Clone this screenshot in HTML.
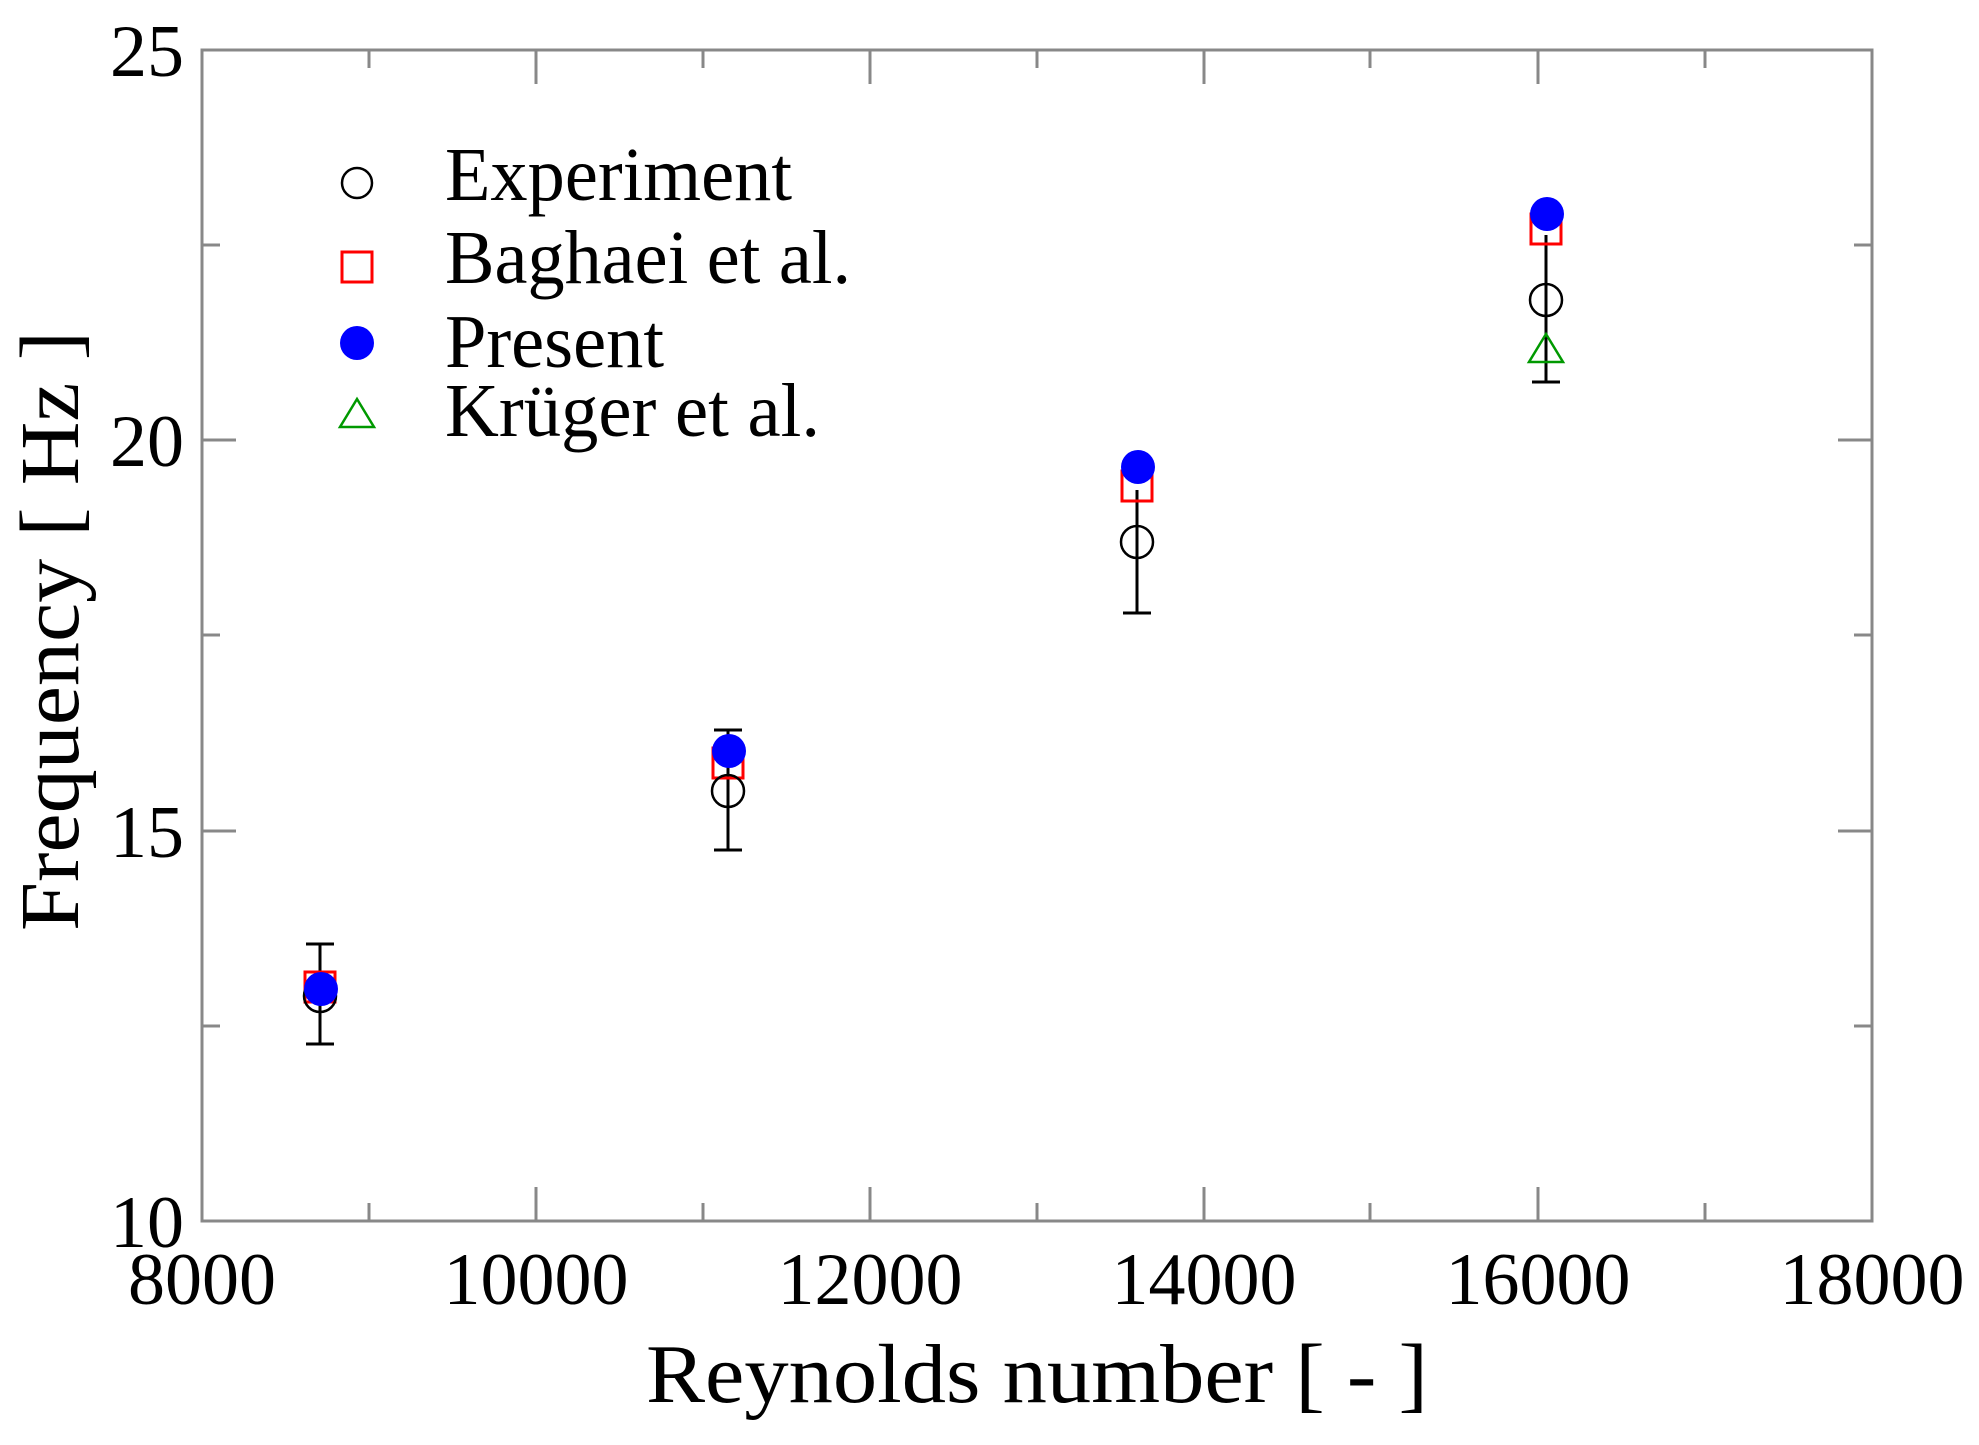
<!DOCTYPE html>
<html><head><style>html,body{margin:0;padding:0;background:#fff}</style></head><body>
<svg width="1979" height="1440" xmlns="http://www.w3.org/2000/svg" font-family="Liberation Serif, serif">
<rect width="1979" height="1440" fill="#fff"/>
<g stroke="#888" stroke-width="3" fill="none">
<rect x="202" y="50" width="1670" height="1171"/>
<!-- x ticks -->
<path d="M369,1221v-18M703,1221v-18M1037,1221v-18M1370,1221v-18M1705,1221v-18
M369,50v18M703,50v18M1037,50v18M1370,50v18M1705,50v18
M536,1221v-34M870,1221v-34M1204,1221v-34M1538,1221v-34
M536,50v34M870,50v34M1204,50v34M1538,50v34
M202,1026h18M202,635h18M202,245h18M1872,1026h-18M1872,635h-18M1872,245h-18
M202,831h34M202,440h34M1872,831h-34M1872,440h-34"/>
</g>
<g font-size="74" fill="#000">
<g text-anchor="end">
<text x="184" y="76">25</text>
<text x="184" y="466">20</text>
<text x="184" y="857">15</text>
<text x="184" y="1247">10</text>
</g>
<g text-anchor="middle">
<text x="202" y="1304">8000</text>
<text x="536" y="1304">10000</text>
<text x="870" y="1304">12000</text>
<text x="1204" y="1304">14000</text>
<text x="1538" y="1304">16000</text>
<text x="1872" y="1304">18000</text>
</g>
</g>
<text x="1037" y="1402" font-size="84" text-anchor="middle" textLength="782" lengthAdjust="spacingAndGlyphs">Reynolds number [ - ]</text>
<text transform="translate(78,631) rotate(-90)" font-size="84" text-anchor="middle" textLength="600" lengthAdjust="spacingAndGlyphs">Frequency [ Hz ]</text>
<!-- legend -->
<circle cx="357" cy="183" r="15" fill="none" stroke="#000" stroke-width="2.5"/>
<rect x="342" y="252" width="30" height="30" fill="none" stroke="#f00" stroke-width="3"/>
<circle cx="357" cy="343" r="17" fill="#00f"/>
<path d="M357,399 L374,427 L340,427 Z" fill="none" stroke="#090" stroke-width="2.5"/>
<g font-size="76">
<text x="445" y="200" textLength="347" lengthAdjust="spacingAndGlyphs">Experiment</text>
<text x="445" y="283" textLength="406" lengthAdjust="spacingAndGlyphs">Baghaei et al.</text>
<text x="445" y="367" textLength="219" lengthAdjust="spacingAndGlyphs">Present</text>
<text x="445" y="436" textLength="375" lengthAdjust="spacingAndGlyphs">Krüger et al.</text>
</g>
<!-- error bars -->
<g stroke="#000" stroke-width="3">
<path d="M320,944V1044M306,944h28M306,1044h28"/>
<path d="M728,730V850M714,730h28M714,850h28"/>
<path d="M1137,490V613M1123,613h28"/>
<path d="M1546,235V382M1532,382h28"/>
</g>
<!-- squares -->
<g fill="none" stroke="#f00" stroke-width="3">
<rect x="305" y="972" width="30" height="30"/>
<rect x="713" y="748" width="30" height="30"/>
<rect x="1122" y="471" width="30" height="30"/>
<rect x="1531" y="214" width="30" height="30"/>
</g>
<!-- experiment circles -->
<g fill="none" stroke="#000" stroke-width="2.5">
<circle cx="320" cy="996" r="16"/>
<circle cx="728" cy="791" r="16"/>
<circle cx="1137" cy="542" r="16"/>
<circle cx="1546" cy="300" r="16"/>
</g>
<path d="M1546,334 L1563,362 L1529,362 Z" fill="none" stroke="#090" stroke-width="2.5"/>
<g fill="#00f">
<circle cx="321" cy="989" r="17"/>
<circle cx="729" cy="751" r="17"/>
<circle cx="1138" cy="467" r="17"/>
<circle cx="1547" cy="214" r="17"/>
</g>
</svg>
</body></html>
